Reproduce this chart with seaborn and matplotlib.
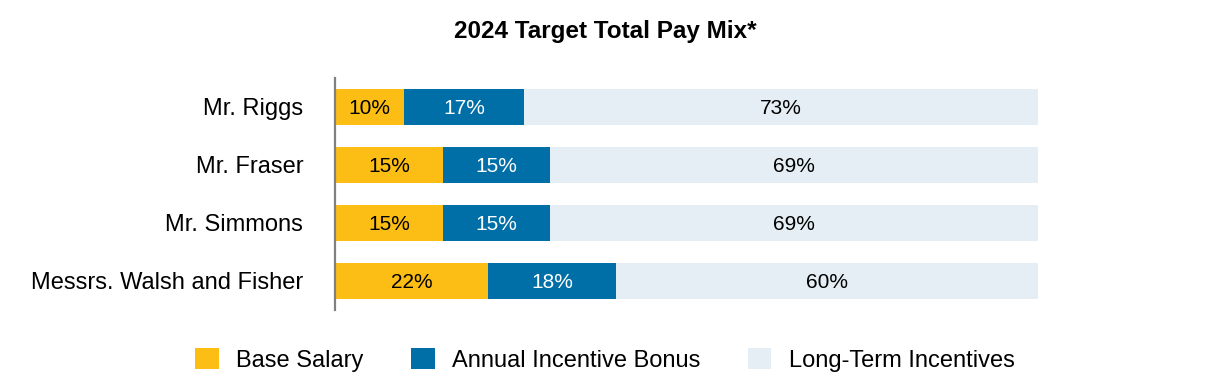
import matplotlib
matplotlib.use("Agg")
import matplotlib.pyplot as plt
from matplotlib.patches import Patch
import seaborn as sns
import pandas as pd
import numpy as np

sns.set_theme(style="white")
plt.rcParams['font.family'] = ['Liberation Sans', 'DejaVu Sans']
plt.rcParams['text.color'] = 'black'

executives = ["Mr. Riggs", "Mr. Fraser", "Mr. Simmons", "Messrs. Walsh and Fisher"]
base_salary = [9.8, 15.3, 15.3, 21.8]
annual_bonus = [17.1, 15.3, 15.3, 18.2]
long_term = [73.1, 69.4, 69.4, 60.0]
series_names = ["Base Salary", "Annual Incentive Bonus", "Long-Term Incentives"]
colors = ["#FCBE14", "#006FA8", "#E4EEF4"]
text_colors = ["black", "white", "black"]

df = pd.DataFrame({"exec": executives, "base": base_salary,
                   "bonus": annual_bonus, "lti": long_term})
df["c1"] = df["base"]
df["c2"] = df["base"] + df["bonus"]
df["c3"] = df["c2"] + df["lti"]

fig = plt.figure(figsize=(12.1, 3.84), dpi=100)
ax = fig.add_axes([0.277, 0.193, 0.581, 0.604])

for col, color in zip(["c3", "c2", "c1"], colors[::-1]):
    sns.barplot(data=df, y="exec", x=col, color=color, orient="h",
                width=0.61, ax=ax, saturation=1, order=executives,
                linewidth=0, edgecolor="none")

for i, row in df.iterrows():
    starts = [0, row["c1"], row["c2"]]
    vals = [row["base"], row["bonus"], row["lti"]]
    for s, v, tc in zip(starts, vals, text_colors):
        ax.text(s + v / 2, i, f"{round(v):.0f}%", ha="center", va="center_baseline",
                color=tc, fontsize=15)

ax.set_xlim(0, 100)
ax.set_ylim(3.5, -0.5)
ax.set_xlabel("")
ax.set_ylabel("")
ax.set_xticks([])
ax.tick_params(axis="y", length=0, pad=23, labelsize=17, labelcolor="black")
for s in ["top", "right", "bottom"]:
    ax.spines[s].set_visible(False)
ax.spines["left"].set_color("#808080")
ax.spines["left"].set_linewidth(1.6)

fig.text(0.5, 0.918, "2024 Target Total Pay Mix*", ha="center", va="center",
         fontsize=17.5, fontweight="bold", color="black")

handles = [Patch(facecolor=c, edgecolor="none") for c in colors]
fig.legend(handles, series_names, loc="center", bbox_to_anchor=(0.5, 0.062),
           ncol=3, frameon=False, fontsize=17, handlelength=1.0,
           handleheight=1.0, handletextpad=0.75, columnspacing=2.0,
           labelcolor="black")

fig.savefig("out.png", dpi=100)
